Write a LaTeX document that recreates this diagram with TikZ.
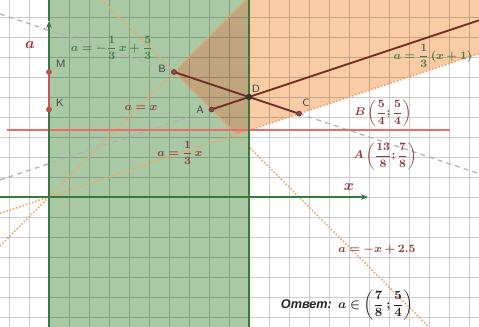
\documentclass[tikz,border=0pt]{standalone}
\usepackage{fontspec}
\usepackage{amsmath}
\usepackage{bm}
\newfontfamily\cyrsans{Liberation Sans}
\usetikzlibrary{arrows.meta}
\definecolor{grnfill}{RGB}{168,201,164}
\definecolor{tanfill}{RGB}{192,166,127}
\definecolor{orfill}{RGB}{249,204,166}
\definecolor{axgreen}{RGB}{58,120,60}
\definecolor{redline}{RGB}{236,108,108}
\definecolor{segbrown}{RGB}{112,44,34}
\definecolor{lblbrown}{RGB}{142,62,64}
\definecolor{lblgreen}{RGB}{72,124,74}
\definecolor{dotor}{RGB}{236,168,108}
\definecolor{axlbl}{RGB}{165,45,60}
\tikzset{
  gridline/.style={draw=black, opacity=0.2, line width=0.6pt},
  dotline/.style={draw=dotor, line width=1.2pt, dash pattern=on 1.1pt off 1.3pt},
  grayline/.style={draw=gray!60, line width=0.9pt, dash pattern=on 3.5pt off 3pt},
  segline/.style={draw=segbrown, line width=1.3pt},
  axline/.style={draw=axgreen, line width=1.4pt},
  ptdot/.style={circle, fill=segbrown!85, draw=segbrown, inner sep=0pt, minimum size=3.6pt},
  ptlbl/.style={font=\sffamily\fontsize{7.5}{8}\selectfont, text=black!75},
  eqbrown/.style={text=lblbrown, font=\fontsize{8.5}{9}\selectfont},
  eqgreen/.style={text=lblgreen, font=\fontsize{8.5}{9}\selectfont},
  axname/.style={text=axlbl, font=\fontsize{11}{12}\selectfont}
}
\begin{document}
\begin{tikzpicture}[x=2.5cm,y=2.5cm]
\useasboundingbox (-0.49,-1.30) rectangle (4.30,1.97);
\clip (-0.49,-1.30) rectangle (4.30,1.97);
\fill[white] (-0.49,-1.30) rectangle (4.30,1.97);
% regions
\fill[grnfill] (0,-1.30) rectangle (2,1.97);
\fill[orfill] (2,1.97) -- (4.30,1.97) -- (4.30,1.4333) -- (2,0.6667) -- cycle;
\fill[tanfill] (1.25,1.25) -- (1.97,1.97) -- (2,1.97) -- (2,0.6667) -- (1.875,0.625) -- cycle;
% grid
\draw[gridline, step=0.5cm] (-0.49,-1.30) grid (4.30,1.97);
% named coordinates
\coordinate (B) at (1.25,1.25);
\coordinate (A) at (1.625,0.875);
\coordinate (D) at (2,1);
\coordinate (C) at (2.5,0.8333);
\coordinate (M) at (0,1.25);
\coordinate (K) at (0,0.875);
\coordinate (ax1) at (-0.49,-0.49);
\coordinate (ax2) at (1.97,1.97);
\coordinate (at1) at (-0.49,-0.1633);
\coordinate (at2) at (4.30,1.4333);
\coordinate (am1) at (0.53,1.97);
\coordinate (am2) at (3.80,-1.30);
\coordinate (g1) at (-0.49,1.83);
\coordinate (g2) at (4.30,0.2333);
\coordinate (h1) at (-0.49,0.17);
\coordinate (h2) at (4.30,1.7667);
\coordinate (r1) at (-0.42,0.6667);
\coordinate (r2) at (4.01,0.6667);
\coordinate (xa1) at (-0.49,0);
\coordinate (xa2) at (3.19,0);
\coordinate (ya1) at (0,-1.30);
\coordinate (ya2) at (0,1.76);
\coordinate (ya3) at (0,1.97);
\coordinate (b1) at (2,-1.30);
\coordinate (b2) at (2,1.97);
% dotted orange lines
\draw[dotline] (ax1) -- (ax2);
\draw[dotline] (at1) -- (at2);
\draw[dotline] (am1) -- (am2);
% gray dashed lines
\draw[grayline] (g1) -- (B);
\draw[grayline] (C) -- (g2);
\draw[grayline] (h1) -- (A);
% red line
\draw[redline, line width=1.4pt] (r1) -- (r2);
% axes and boundary
\draw[axline] (ya2) -- (ya3);
\draw[axline, -{Stealth[length=5pt,width=4pt]}] (ya1) -- (ya2);
\draw[axline, -{Stealth[length=5pt,width=4pt]}] (xa1) -- (xa2);
\draw[axline] (b1) -- (b2);
% segments
\draw[segline] (B) -- (C);
\draw[segline] (A) -- (h2);
\draw[draw=redline!65!segbrown, line width=1.4pt] (M) -- (K);
% points
\node[ptdot] (pB) at (B) {};
\node[ptdot] (pA) at (A) {};
\node[ptdot, minimum size=4pt, fill=black!80, draw=black!80] (pD) at (D) {};
\node[ptdot] (pC) at (C) {};
\node[ptdot, fill=redline!60!segbrown, draw=redline!60!segbrown] (pM) at (M) {};
\node[ptdot, fill=redline!60!segbrown, draw=redline!60!segbrown] (pK) at (K) {};
% point labels
\node[ptlbl] (lB) at (1.13,1.28) {B};
\node[ptlbl] (lA) at (1.51,0.87) {A};
\node[ptlbl] (lD) at (2.07,1.08) {D};
\node[ptlbl] (lC) at (2.57,0.94) {C};
\node[ptlbl, anchor=west] (lM) at (0.02,1.33) {M};
\node[ptlbl, anchor=west] (lK) at (0.02,0.94) {K};
% axis names
\node[axname] (na) at (-0.19,1.52) {$\bm{a}$};
\node[axname] (nx) at (3.00,0.10) {$\bm{x}$};
% equation labels
\node[eqgreen] (e1) at (0.63,1.49) {$\bm{a=-\dfrac{1}{3}\,x+\dfrac{5}{3}}$};
\node[eqbrown] (e2) at (0.92,0.89) {$\bm{a=x}$};
\node[eqbrown] (e3) at (1.31,0.44) {$\bm{a=\dfrac{1}{3}\,x}$};
\node[eqgreen] (e4) at (3.84,1.41) {$\bm{a=\dfrac{1}{3}\,(x+1)}$};
\node[eqbrown] (e5) at (3.34,0.84) {$\bm{B\left(\dfrac{5}{4};\dfrac{5}{4}\right)}$};
\node[eqbrown] (e6) at (3.36,0.41) {$\bm{A\left(\dfrac{13}{8};\dfrac{7}{8}\right)}$};
\node[eqbrown] (e7) at (3.28,-0.53) {$\bm{a=-x+2.5}$};
\node[anchor=west, font=\fontsize{9}{10}\selectfont, text=black!85] (ans) at (2.27,-1.08)
  {{\cyrsans\bfseries\itshape Ответ:}\enspace$\bm{a\in\left(\dfrac{7}{8}\,;\dfrac{5}{4}\right)}$};
\end{tikzpicture}
\end{document}
